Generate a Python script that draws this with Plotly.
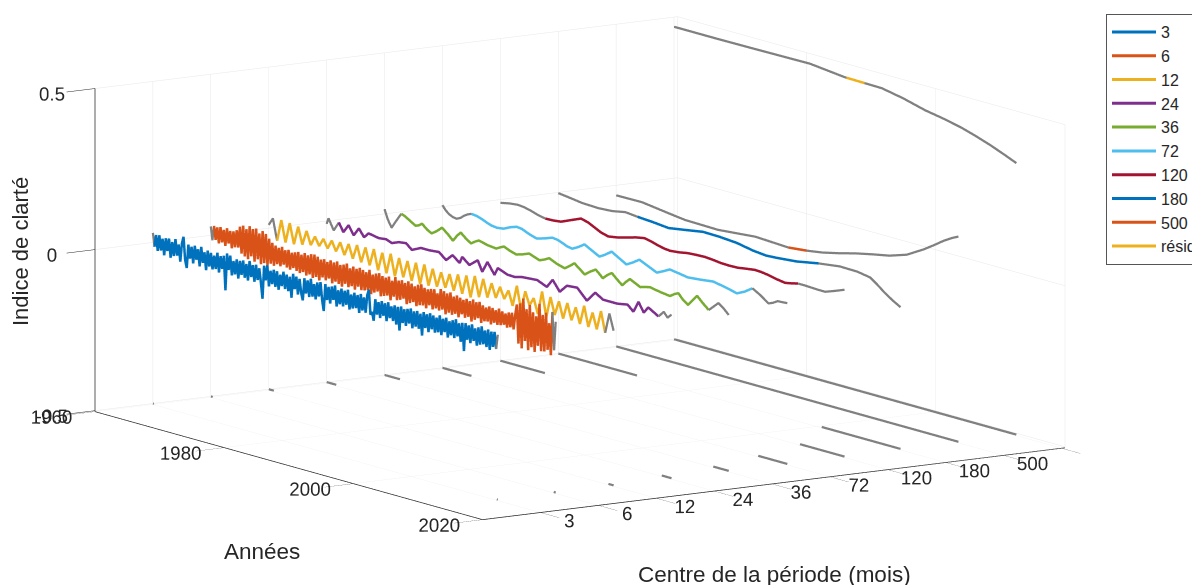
import numpy as np
import plotly.graph_objects as go

START = 1960
SPAN = 53.4
periods = ["3", "6", "12", "24", "36", "72", "120", "180", "500", "résidu"]
positions = [1, 2, 3, 4, 5, 6, 7, 8, 9, 10]
colors = ["#0072BD", "#D95319", "#EDB120", "#7E2F8E", "#77AC30", "#4DBEEE", "#A2142F", "#0072BD", "#D95319", "#EDB120"]
edges = [0.15, 0.3, 0.8, 1.5, 2.4, 4.5, 6.9, 12.2, 26.6, 26.6]
year_ticks = [1960, 1980, 2000, 2020]
year_labels = ["1960", "1980", "2000", "2020"]
period_labels = ["3", "6", "12", "24", "36", "72", "120", "180", "500", ""]

v3 = [.030,-.012,.026,-.022,.028,-.018,.020,-.030,.024,-.014,.026,-.032,.018,-.024,.030,-.020,.016,-.036,.022,.044,
      -.026,-.050,.024,-.018,.020,-.030,.026,-.016,.018,-.034,.028,-.020,.014,-.040,.022,-.026,.018,-.032,.012,-.028,
      .024,-.036,.016,-.022,.020,-.086,.030,-.020,.026,-.034,.012,-.028,.020,-.038,.018,-.024,.022,-.030,.014,-.036,
      .026,-.022,.016,-.034,.020,-.026,.012,-.030,-.080,.024,-.020,.028,-.036,.014,-.026,.020,-.032,.018,-.038,.010,
      -.024,.022,-.030,.016,-.034,.012,-.052,.024,-.022,.018,-.036,.014,-.028,-.050,.020,-.026,.016,-.034,.024,-.030,
      .010,-.036,.018,-.024,.022,-.032,-.065,.020,-.028,.014,-.036,.018,-.022,.024,-.040,.012,-.030,.020,-.034,.016,
      -.026,.022,-.038,.010,-.032,.018,-.028,.014,-.040,.020,-.030,.012,-.034,.022,.040,-.036,-.026,-.052,.016,-.030,
      .010,-.038,.016,-.028,.012,-.042,.018,-.030,.008,-.036,.014,-.044,.012,-.060,.016,-.034,.010,-.040,.014,-.030,
      .018,-.042,.012,-.034,.016,-.038,.010,-.056,.018,-.030,.014,-.040,.020,-.028,.016,-.036,.012,-.032,.022,-.038,
      .014,-.026,.020,-.040,.012,-.030,.018,-.036,.024,-.028,.014,-.042,.018,-.068,.020,-.030,.016,-.038,.022,-.028,
      .012,-.040,.018,-.034,.024,-.030,.014,-.036,.020,-.042,.016,-.030,.018,-.034,.012]
v6 = [.028,-.014,.032,-.010,.030,-.018,.034,-.012,.028,-.020,.036,-.010,.030,-.022,.032,-.016,.038,-.014,.052,-.030,
      .058,-.036,.050,-.042,.062,-.030,.056,-.044,.060,-.034,.048,-.046,.058,-.040,.052,-.044,.040,-.036,.030,-.040,
      .024,-.032,.020,-.036,.026,-.028,.018,-.034,.022,-.038,.016,-.030,.020,-.036,.024,-.040,.018,-.034,.026,-.042,
      .022,-.036,.028,-.044,.030,-.038,.026,-.046,.020,-.034,.024,-.040,.018,-.032,.026,-.044,.022,-.036,.028,-.040,
      .020,-.046,.024,-.034,.030,-.042,.018,-.036,.026,-.044,.022,-.032,.028,-.040,.024,-.038,.020,-.034,.030,-.044,
      .018,-.036,.024,-.030,.028,-.042,.022,-.038,.020,-.034,.026,-.046,.016,-.032,.030,-.040,.022,-.036,.026,-.030,
      .020,-.044,.028,-.038,.024,-.032,.018,-.042,.026,-.036,.030,-.034,.022,-.040,.020,-.028,.024,-.038,.026,-.032,
      .016,-.036,.032,-.030,.028,-.042,.024,-.034,.030,-.038,.020,-.032,.026,-.040,.022,-.028,.018,-.036,.024,-.030,
      .020,-.042,.028,-.034,.022,-.026,.026,-.038,.018,-.030,.014,-.028,.020,-.034,.018,-.026,.014,-.030,.022,-.028,
      .016,-.024,.012,-.030,.018,-.026,.020,-.030,.016,.050,-.070,.056,-.082,.074,-.056,.044,-.082,.060,-.070,.040,
      -.082,.030,-.060,.072,-.074,.040,-.072,.050,-.064,.020,-.078,.058,-.060,.030]
v12 = [.010,.034,-.032,.036,-.030,.034,-.028,.030,-.022,.024,-.016,.014,-.012,.014,-.012,.016,-.014,.018,-.018,.020,
       -.022,.024,-.026,.024,-.028,.026,-.036,.022,-.038,.026,-.040,.020,-.036,.018,-.040,.020,-.042,.022,-.040,.016,
       -.036,.012,-.032,.014,-.034,.020,-.036,.024,-.040,.030,-.032,.028,-.026,.022,-.020,.018,-.016,.014,-.030,.036,
       -.036,.026,-.014,.012,-.034,.040,-.036,.030,-.022,.024,-.026,.026,-.024,.020,-.028,.032,-.030,.018,-.030,.030,
       -.034,.030,-.020]
t24 = [0,.3,1.1,1.9,2.6,3.4,4.2,5,5.8,6.5,8.1,9.2,10.1,11.2,12.3,13.2,14.6,15.9,17.4,18.5,19.5,20.6,21,22.1,23.4,24.1,24.9,26,26.5,28,29.1,30.2,32.6,34.1,35,36.1,37.2,38.8,40.3,41.6,42.8,45,46.6,47.5,48.3,49.1,49.8,51.4,52.2,52.8,53.4]
v24 = [-.009,.010,-.023,.006,-.020,.006,-.021,.005,-.018,-.002,-.008,-.005,-.012,-.003,0,-.016,-.002,-.002,.001,-.018,.003,-.015,.006,-.013,.009,-.023,.012,-.022,.002,-.010,-.011,-.005,-.001,-.014,.013,-.018,.007,.010,-.022,.010,-.005,-.005,.001,-.016,.019,-.010,.010,-.009,.010,-.005,.008]
t36 = [0,.5,1.1,1.8,2.6,3.2,4,4.8,5.3,5.8,6.6,7.3,8.1,8.9,9.8,10.6,11.2,11.8,12.6,13.4,14,14.6,16,17.3,17.9,18.5,19.4,20.4,21.4,22.4,23.2,24,24.8,25.5,26.7,27.9,28.7,29.4,30.2,31,31.8,32.7,33.3,33.8,34.5,35.2,36,36.8,37.4,38,38.8,39.6,40.4,41.1,42.7,44.2,44.9,45.5,46.2,47,47.7,48.4,49.3,50.2,51,51.7,52.5,53.3]
v36 = [.015,-.014,-.037,-.012,.015,.010,.000,-.010,-.006,.002,-.012,-.020,-.008,.007,-.008,-.024,-.006,.008,-.006,-.017,-.008,-.001,-.008,-.011,-.004,.002,-.006,-.012,-.006,.002,-.004,-.010,-.003,.005,-.006,-.013,-.001,.011,-.002,-.015,-.002,.010,-.001,-.011,.003,.013,-.002,-.016,-.002,.010,.002,-.006,-.001,.002,-.004,-.008,.002,.008,-.008,-.020,-.002,.016,-.002,-.018,-.002,.012,.000,-.016]
t72 = [0,.5,1,1.6,2.2,2.8,3.3,3.9,4.5,5.3,6.1,6.9,7.6,8.5,9.5,10.5,11.5,12.3,13.1,13.9,14.6,15.8,17,17.8,18.5,19.3,20.1,21,22,23.1,24.3,25.2,26.2,27.3,28.5,29.5,30.5,31.8,33.2,34.2,35.2,36.5,38,40,41.9,43.8,45.6,46.8,48,49.2,50.5,51.2,51.9,52.7,53.4]
v72 = [.005,-.008,-.017,-.023,-.025,-.019,-.010,-.002,.003,.001,-.004,-.011,-.016,-.018,-.015,-.005,.002,.000,-.007,-.013,-.017,-.010,-.001,-.003,-.008,-.015,-.018,-.008,.006,-.006,-.019,-.008,.007,-.006,-.020,-.008,.006,-.006,-.019,-.009,.002,-.002,-.007,-.003,.002,-.005,-.014,-.002,.015,.001,-.018,-.012,-.003,-.002,-.001]
t120 = [0,1.4,2.7,3.7,4.7,5.8,7,8.2,9.4,11,12.5,13.6,14.6,15.6,16.7,18.2,19.8,21,22.3,23.3,24.3,25.3,26.3,27.7,29,30.4,31.7,32.9,34.1,35.4,36.8,38,39.4,40.4,41.4,42.8,44.1,45.1,46.1,47.1,48.1,49.2,50.3,51.8,53.3]
v120 = [-.010,-.004,-.001,-.003,-.008,-.015,-.020,-.019,-.016,-.002,.011,.005,-.005,-.015,-.021,-.016,-.007,.000,.005,.001,-.005,-.010,-.012,-.009,-.004,-.002,-.001,-.003,-.006,-.007,-.006,-.002,.002,.001,-.002,-.008,-.012,-.008,-.003,-.003,-.004,-.005,-.005,.006,.018]
t180 = [0,1.6,3.7,6.2,8.4,10.4,12.3,14.6,17.1,19.8,22.4,24.9,27.6,30.2,32.2,33.8,36.9,40.3,43.6,46.3,48.3,49.4,50.5,51.8,53]
v180 = [-.002,-.006,-.012,-.014,-.011,-.003,-.007,-.010,-.015,-.006,.003,.002,-.002,-.012,-.016,-.014,-.008,.005,.014,.013,.006,-.010,-.028,-.046,-.060]
t500 = [0,4,8,10.7,15.8,21.6,26.5,26.7,29.5,32,34.5,37.1,39.8,42.3,45,47.6,49.2,50.7,52,53]
v500 = [-.031,-.030,-.041,-.048,-.050,-.039,-.044,-.044,-.038,-.030,-.018,-.004,.008,.018,.036,.067,.089,.111,.127,.137]
tres = [0,3.3,6.7,12.5,17,21,26.5,26.7,29.5,32.2,35.5,38.9,41.7,44.4,46.7,49,51,53]
vres = [.470,.470,.470,.471,.472,.473,.461,.461,.460,.459,.446,.428,.418,.406,.392,.376,.360,.343]

times = [None, None, None, t24, t36, t72, t120, t180, t500, tres]
values = [v3, v6, v12, v24, v36, v72, v120, v180, v500, vres]
GREY = "#808080"
LW = 5
LW_GREY = 4.5

fig = go.Figure()
for k, (name, pos, color, edge, t, v) in enumerate(zip(periods, positions, colors, edges, times, values)):
    t = np.linspace(0, SPAN, len(v)) if t is None else np.array(t, dtype=float)
    yrs = START + t
    v = np.array(v)
    i0 = int(np.searchsorted(t, edge))
    i1 = int(np.searchsorted(t, t[-1] - edge, side="right")) - 1
    i1 = max(i1, i0 + 1)
    gx = list(yrs[:i0 + 1]) + [None] + list(yrs[i1:])
    gz = list(v[:i0 + 1]) + [None] + list(v[i1:])
    fig.add_trace(go.Scatter3d(x=gx, y=[pos] * len(gx), z=gz, mode="lines",
                               line=dict(color=GREY, width=LW_GREY), showlegend=False, hoverinfo="skip"))
    fig.add_trace(go.Scatter3d(x=yrs[i0:i1 + 1], y=[pos] * (i1 - i0 + 1), z=v[i0:i1 + 1], mode="lines", name=name,
                               line=dict(color=color, width=LW), showlegend=False))
    fx = [START, START + edge, None, START + t[-1] - edge, START + t[-1]]
    fig.add_trace(go.Scatter3d(x=fx, y=[pos] * 5, z=[-0.5, -0.5, None, -0.5, -0.5], mode="lines",
                               line=dict(color=GREY, width=LW_GREY), showlegend=False, hoverinfo="skip"))
    # legend key with the thinner line of the original legend
    fig.add_trace(go.Scatter3d(x=[yrs[i0]], y=[pos], z=[v[i0]], mode="lines", name=name,
                               line=dict(color=color, width=3), hoverinfo="skip"))

axis_font = dict(family="Liberation Sans, Arial, sans-serif", size=15, color="#262626")
common = dict(showbackground=False, showgrid=True, gridcolor="#e8e8e8", gridwidth=1, showline=True,
              linecolor="#262626", linewidth=1.5, ticks="outside", ticklen=34, tickcolor="#262626", tickangle=0,
              zeroline=False, showspikes=False, tickfont=axis_font, title=dict(text=""))
EYE = 8
SCALE = 2.425
SHIFT = -0.1
W, H = 1192, 577
px = lambda X: (X - 8) / W
py = lambda Y: 1 - (Y - 8) / H
fig.update_layout(
    width=W, height=H, autosize=False,
    margin=dict(l=0, r=0, t=0, b=0, autoexpand=False),
    paper_bgcolor="white",
    font=dict(family="Liberation Sans, Arial, sans-serif", color="#262626"),
    legend=dict(x=px(1106), y=py(14), xanchor="left", yanchor="top", bordercolor="#555555", borderwidth=1,
                bgcolor="white", font=dict(size=16, color="#262626"), itemwidth=44, traceorder="normal"),
    scene=dict(
        domain=dict(x=[0, 1144 / W], y=[0, 1]),
        aspectmode="manual", aspectratio=dict(x=SCALE, y=SCALE, z=0.47 * SCALE),
        camera=dict(projection=dict(type="orthographic"), up=dict(x=0, y=0, z=1), center=dict(x=0, y=0, z=SHIFT),
                    eye=dict(x=0.818 * EYE, y=-0.5442 * EYE, z=0.1854 * EYE + SHIFT)),
        xaxis=dict(common, range=[1960, 2020], tickvals=year_ticks, ticktext=year_labels),
        yaxis=dict(common, range=[0, 10.06], tickvals=positions, ticktext=period_labels),
        zaxis=dict(common, ticklen=14, range=[-0.503, 0.5], tickvals=[-0.5, 0, 0.5], ticktext=["-0.5", "0", "0.5"]),
    ),
    annotations=[
        dict(text="Années", x=px(262), y=py(551), xref="paper", yref="paper", xanchor="center", yanchor="middle", showarrow=False, font=dict(size=22.5)),
        dict(text="Centre de la période (mois)", x=px(774), y=py(574), xref="paper", yref="paper", xanchor="center", yanchor="middle", showarrow=False, font=dict(size=22.5)),
        dict(text="Indice de clarté", x=px(20), y=py(252), xref="paper", yref="paper", xanchor="center", yanchor="middle", showarrow=False, textangle=-90, font=dict(size=22)),
    ],
)
fig.write_html("out.html")
